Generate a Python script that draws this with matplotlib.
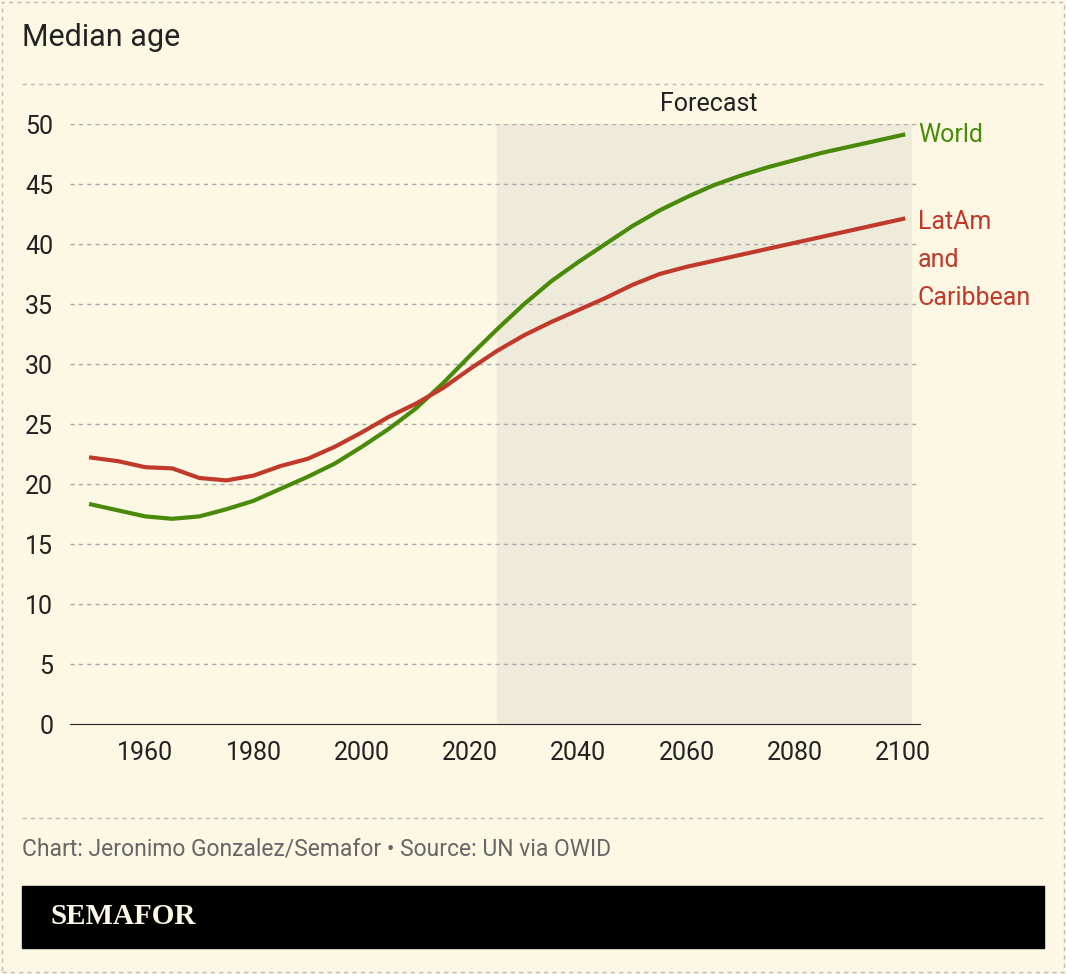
import matplotlib
matplotlib.use("Agg")
import matplotlib.pyplot as plt
from matplotlib.patches import Rectangle

plt.rcParams['font.family'] = ['Roboto', 'DejaVu Sans']

years = list(range(1950, 2101, 5))
world = [18.3, 17.8, 17.3, 17.1, 17.3, 17.9, 18.6, 19.6, 20.6, 21.7, 23.1, 24.6, 26.3, 28.4, 30.7,
         32.9, 35.0, 36.9, 38.5, 40.0, 41.5, 42.8, 43.9, 44.9, 45.7, 46.4, 47.0, 47.6, 48.1, 48.6, 49.1]
latam = [22.2, 21.9, 21.4, 21.3, 20.5, 20.3, 20.7, 21.5, 22.1, 23.1, 24.3, 25.6, 26.7, 28.0, 29.6,
         31.1, 32.4, 33.5, 34.5, 35.5, 36.6, 37.5, 38.1, 38.6, 39.1, 39.6, 40.1, 40.6, 41.1, 41.6, 42.1]
yticks = list(range(0, 51, 5))
xticks = [1960, 1980, 2000, 2020, 2040, 2060, 2080, 2100]

bg = '#fcf8e4'
W, H = 1066, 974
fig = plt.figure(figsize=(W/100, H/100), dpi=100, facecolor=bg)
fig.patches.append(Rectangle((2/W, 2/H), 1-4/W, 1-4/H, transform=fig.transFigure, fill=False,
                             ec='#bbbbbb', ls=(0, (3, 3)), lw=1))
ax = fig.add_axes([70/W, 1-724/H, 850/W, 600/H], facecolor=bg)
ax.set_xlim(1946.1, 2103.1)
ax.set_ylim(0, 50)
ax.axvspan(2025, 2101.5, color='#efebdb', zorder=0)
for y in yticks[1:]:
    ax.axhline(y, color='#aaaaaa', lw=1, ls=(0, (3, 3)), zorder=1)
ax.plot(years, world, color='#4a8a0a', lw=3, zorder=3, solid_joinstyle='round')
ax.plot(years, latam, color='#c0392b', lw=3, zorder=3, solid_joinstyle='round')
for s in ['top', 'right', 'left']:
    ax.spines[s].set_visible(False)
ax.spines['bottom'].set_color('#222222')
ax.set_yticks(yticks)
ax.set_xticks(xticks)
ax.tick_params(axis='y', length=0, labelsize=18, pad=12, colors='#222222')
ax.tick_params(axis='x', length=0, labelsize=18, pad=12, colors='#222222')
ax.text(2064, 51.7, 'Forecast', ha='center', va='center', fontsize=18, color='#222222')
ax.text(2102.7, 49.1, 'World', ha='left', va='center', fontsize=18, color='#4a8a0a', clip_on=False)
for i, line in enumerate(['LatAm', 'and', 'Caribbean']):
    ax.text(2102.7, 41.8 - i * 38 / 12, line, ha='left', va='center', fontsize=18, color='#c0392b',
            clip_on=False)
fig.text(22/W, 1-38/H, 'Median age', fontsize=22, va='center', color='#222222')
for yy in [84, 818]:
    fig.add_artist(plt.Line2D([22/W, 1044/W], [1-yy/H]*2, color='#bbbbbb', lw=1, ls=(0, (3, 3))))
fig.text(22/W, 1-849/H, 'Chart: Jeronimo Gonzalez/Semafor • Source: UN via OWID', fontsize=16.5,
         va='center', color='#666666')
fig.patches.append(Rectangle((22/W, 1-948/H), 1022/W, 62/H, transform=fig.transFigure, color='black'))
fig.text(50/W, 1-917/H, 'SEMAFOR', fontsize=21, va='center', color='#fcf8e4', weight='bold',
         family=['Liberation Serif', 'DejaVu Serif'])
fig.savefig('out.png', dpi=100, facecolor=bg)
